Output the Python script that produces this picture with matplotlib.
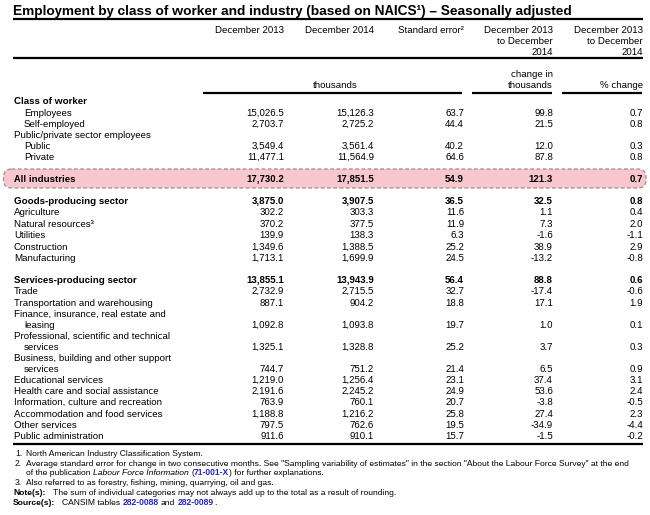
import matplotlib
matplotlib.use('Agg')
import matplotlib.pyplot as plt
from matplotlib.patches import FancyBboxPatch

plt.rcParams['font.family'] = ['Liberation Sans', 'DejaVu Sans']
# use the font's own hinting so glyph descents snap to whole pixels (keeps rows level)
plt.rcParams['text.hinting'] = 'native'

# ---- data ----
title = 'Employment by class of worker and industry (based on NAICS¹) – Seasonally adjusted'

col_heads = ['December 2013', 'December 2014', 'Standard error²',
             'December 2013\nto December\n2014', 'December 2013\nto December\n2014']
unit_heads = ['thousands', 'change in\nthousands', '% change']

row_labels = [
    'Class of worker', 'Employees', 'Self-employed', 'Public/private sector employees',
    'Public', 'Private', 'All industries', 'Goods-producing sector', 'Agriculture',
    'Natural resources³', 'Utilities', 'Construction', 'Manufacturing',
    'Services-producing sector', 'Trade', 'Transportation and warehousing',
    'Finance, insurance, real estate and\nleasing',
    'Professional, scientific and technical\nservices',
    'Business, building and other support\nservices',
    'Educational services', 'Health care and social assistance',
    'Information, culture and recreation', 'Accommodation and food services',
    'Other services', 'Public administration',
]
dec_2013 = [None, 15026.5, 2703.7, None, 3549.4, 11477.1, 17730.2, 3875.0, 302.2, 370.2,
            139.9, 1349.6, 1713.1, 13855.1, 2732.9, 887.1, 1092.8, 1325.1, 744.7, 1219.0,
            2191.6, 763.9, 1188.8, 797.5, 911.6]
dec_2014 = [None, 15126.3, 2725.2, None, 3561.4, 11564.9, 17851.5, 3907.5, 303.3, 377.5,
            138.3, 1388.5, 1699.9, 13943.9, 2715.5, 904.2, 1093.8, 1328.8, 751.2, 1256.4,
            2245.2, 760.1, 1216.2, 762.6, 910.1]
std_err = [None, 63.7, 44.4, None, 40.2, 64.6, 54.9, 36.5, 11.6, 11.9, 6.3, 25.2, 24.5,
           56.4, 32.7, 18.8, 19.7, 25.2, 21.4, 23.1, 24.9, 20.7, 25.8, 19.5, 15.7]
change_k = [None, 99.8, 21.5, None, 12.0, 87.8, 121.3, 32.5, 1.1, 7.3, -1.6, 38.9, -13.2,
            88.8, -17.4, 17.1, 1.0, 3.7, 6.5, 37.4, 53.6, -3.8, 27.4, -34.9, -1.5]
change_pct = [None, 0.7, 0.8, None, 0.3, 0.8, 0.7, 0.8, 0.4, 2.0, -1.1, 2.9, -0.8, 0.6,
              -0.6, 1.9, 0.1, 0.3, 0.9, 3.1, 2.4, -0.5, 2.3, -4.4, -0.2]

# footnote runs: style 'n' normal, 'i' italic, 'b' bold link; trailing '0' = no space before
footnotes = [
    ('1.', [('North American Industry Classification System.', 'n')]),
    ('2.', [('Average standard error for change in two consecutive months. See "Sampling variability of estimates" in the section "About the Labour Force Survey" at the end', 'n')]),
    ('', [('of the publication', 'n'), ('Labour Force Information', 'i'), ('(', 'n'),
          ('71-001-X', 'b0'), (') for further explanations.', 'n0')]),
    ('3.', [('Also referred to as forestry, fishing, mining, quarrying, oil and gas.', 'n')]),
]
note_text = 'The sum of individual categories may not always add up to the total as a result of rounding.'
source_parts = [('CANSIM tables', 'n'), ('282-0088', 'b'), ('and', 'n'), ('282-0089', 'b'), ('.', 'n0')]

# ---- layout (pixel coordinates) ----
W, H = 650, 515
col_right = [284, 374, 464, 553, 643]
row_y = [100, 112, 123, 134, 145, 156, 178, 200, 211, 223, 234, 246, 257, 279, 290, 302,
         324, 346, 368, 379, 390, 401, 413, 424, 435]
indented = {1, 2, 4, 5}
bold_rows = {0, 6, 7, 13}
FS = 7.0
FN = 6.1
OFF = 4        # centre -> baseline, body text (whole pixels avoid jitter)
FN_OFF = 3     # centre -> baseline, footnotes
LINK = '#1f1fc8'

fig = plt.figure(figsize=(W / 100, H / 100), dpi=100)
ax = fig.add_axes([0, 0, 1, 1])
ax.set_xlim(0, W)
ax.set_ylim(H, 0)
ax.axis('off')


def put(x, y, s, size=FS, off=OFF, **kw):
    return ax.text(x, y + off, s, fontsize=size, va='baseline', **kw)


put(13, 10, title, size=9.8, off=5, fontweight='bold', ha='left')
ax.plot([13, 643], [19, 19], color='black', lw=1.6, solid_capstyle='butt')

for cx, head in zip(col_right, col_heads):
    for i, line in enumerate(head.split('\n')):
        put(cx, 29 + i * 11, line, ha='right')
ax.plot([13, 643], [58, 58], color='black', lw=1.6, solid_capstyle='butt')

put(335, 84, unit_heads[0], ha='center')
for cx, head in zip(col_right[3:], unit_heads[1:]):
    lines = head.split('\n')
    for i, line in enumerate(lines):
        put(cx, 84 - (len(lines) - 1 - i) * 11, line, ha='right')
for x0, x1 in [(203, 462), (472, 552), (562, 642)]:
    ax.plot([x0, x1], [93, 93], color='black', lw=1.6, solid_capstyle='butt')

# highlighted total row
ax.add_patch(FancyBboxPatch((3.5, 169), 642.5, 19,
                            boxstyle='round,pad=0,rounding_size=8',
                            fc='#f8c6cd', ec='#9c8a8e', lw=0.9, ls=(0, (3, 2))))

columns = [dec_2013, dec_2014, std_err, change_k, change_pct]
for r, label in enumerate(row_labels):
    y = row_y[r]
    weight = 'bold' if r in bold_rows else 'normal'
    x = 24 if r in indented else 14
    lines = label.split('\n')
    if len(lines) == 2:
        put(x, y - 11, lines[0], ha='left', fontweight=weight)
        put(x + 10, y, lines[1], ha='left', fontweight=weight)
    else:
        put(x, y, label, ha='left', fontweight=weight)
    for cx, col in zip(col_right, columns):
        v = col[r]
        if v is None:
            continue
        put(cx, y, f'{v:,.1f}', ha='right', fontweight=weight)

ax.plot([13, 643], [444, 444], color='black', lw=1.6, solid_capstyle='butt')

# footnotes: text runs placed one after another
renderer = fig.canvas.get_renderer()


def text_width(s, **kw):
    t = ax.text(0, 0, s, fontsize=FN, **kw)
    w = t.get_window_extent(renderer).width
    t.remove()
    return w


space = text_width('x x') - text_width('xx')
styles = {'n': {}, 'i': {'fontstyle': 'italic'},
          'b': {'fontweight': 'bold', 'color': LINK}}


def draw_runs(x, y, parts):
    first = True
    for s, st in parts:
        if not first and not st.endswith('0'):
            x += space
        t = put(x, y, s, size=FN, off=FN_OFF, ha='left', **styles[st.rstrip('0')])
        x += t.get_window_extent(renderer).width
        first = False


fn_y = [453, 463, 472, 482]
for (num, parts), y in zip(footnotes, fn_y):
    if num:
        put(15, y, num, size=FN, off=FN_OFF, ha='left')
    draw_runs(26, y, parts)

put(13, 492, 'Note(s):', size=FN, off=FN_OFF, fontweight='bold', ha='left')
draw_runs(53, 492, [(note_text, 'n')])
put(13, 502, 'Source(s):', size=FN, off=FN_OFF, fontweight='bold', ha='left')
draw_runs(62, 502, source_parts)

fig.savefig('out.png', dpi=100)
